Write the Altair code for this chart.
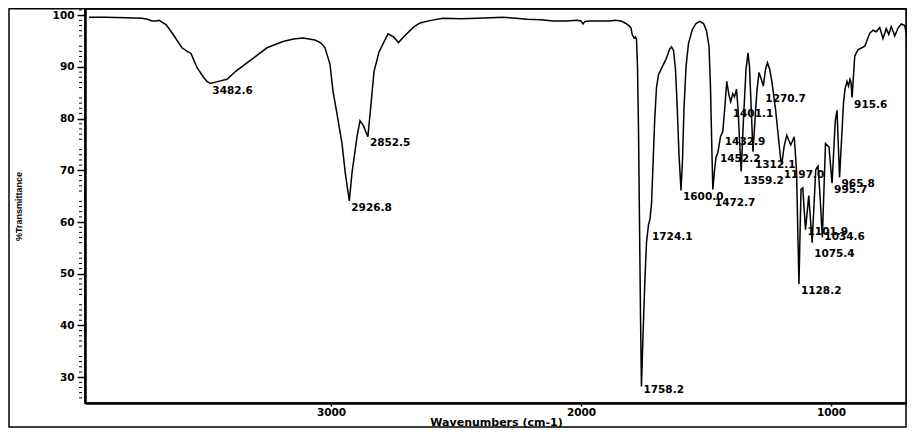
import altair as alt
import pandas as pd

# ---- spectrum (wavenumber cm-1, %T) ----
wavenumber = [3968, 3900, 3820, 3756, 3735, 3716, 3700, 3688, 3660, 3636, 3596, 3575, 3560, 3536,
              3510, 3496, 3482.6, 3450, 3416, 3380, 3360, 3308, 3256, 3192, 3150, 3112, 3064, 3040,
              3024, 3004, 2992, 2976, 2956, 2943, 2926.8, 2916, 2896, 2884, 2870, 2852.5, 2840, 2828,
              2808, 2772, 2750, 2730, 2710, 2670, 2644, 2600, 2552, 2480, 2416, 2360, 2312, 2260,
              2216, 2160, 2112, 2060, 2016, 2000, 1992, 1984, 1964, 1920, 1884, 1864, 1840, 1824,
              1808, 1800, 1795, 1788, 1782, 1778, 1774, 1770, 1766, 1762, 1758.2, 1752, 1745, 1738,
              1730, 1724.1, 1718, 1712, 1705, 1698, 1690, 1675, 1660, 1645, 1638, 1630, 1622, 1615,
              1608, 1600, 1594, 1588, 1580, 1570, 1555, 1540, 1525, 1510, 1498, 1488, 1482, 1477,
              1472.7, 1466, 1460, 1452.2, 1442, 1432.9, 1425, 1417, 1408, 1401.1, 1393, 1386, 1378,
              1372, 1365, 1359.2, 1350, 1340, 1332, 1326, 1320, 1312.1, 1305, 1296, 1288, 1280,
              1270.7, 1262, 1254, 1245, 1236, 1222, 1210, 1201, 1197, 1188, 1177, 1161, 1147, 1138,
              1128.2, 1120, 1113, 1101.9, 1089, 1075.4, 1061, 1052, 1045, 1034.6, 1022, 1008, 995.7,
              983, 976, 965.8, 950, 944, 936, 930, 924, 920, 915.6, 905, 892, 865, 845, 832, 819,
              805, 792, 779, 769, 759, 745, 732, 719, 705, 692, 680, 668]
transmittance = [99.6, 99.6, 99.5, 99.4, 99.2, 98.9, 98.9, 99.0, 98.2, 96.6, 93.7, 93.0, 92.6, 89.9,
                 88.0, 87.2, 86.8, 87.2, 87.6, 89.2, 89.9, 91.8, 93.7, 94.9, 95.4, 95.6, 95.2, 94.6,
                 93.7, 90.5, 85.3, 80.9, 75.2, 69.5, 64.1, 69.5, 76.5, 79.6, 78.6, 76.5, 82.8, 89.1,
                 92.9, 96.4, 95.8, 94.7, 95.8, 97.7, 98.5, 99.0, 99.4, 99.3, 99.4, 99.5, 99.6, 99.4,
                 99.2, 99.1, 98.9, 98.9, 99.0, 98.9, 98.3, 98.8, 98.9, 98.9, 98.9, 99.0, 98.9, 98.5,
                 98.0, 97.5, 96.2, 95.6, 95.8, 95.3, 90.0, 78.0, 60.0, 42.0, 28.2, 38.0, 48.0, 56.0,
                 59.5, 60.5, 63.5, 71.0, 80.0, 86.0, 88.5, 90.0, 91.5, 93.5, 93.9, 93.2, 89.5, 82.0,
                 73.0, 66.1, 72.0, 82.0, 90.0, 94.5, 97.2, 98.4, 98.8, 98.4, 97.0, 94.0, 86.0, 75.0,
                 66.3, 70.0, 72.5, 73.5, 76.5, 77.5, 82.0, 87.2, 84.5, 83.3, 84.8, 84.2, 85.7,
                 82.0, 75.0, 69.8, 80.0, 89.5, 92.7, 90.0, 83.0, 73.6, 79.0, 85.5, 88.9, 87.8,
                 86.3, 89.5, 90.8, 89.5, 87.0, 81.9, 76.2, 72.0, 71.1, 74.5, 76.8, 74.9, 76.5, 70.0,
                 48.0, 66.3, 66.6, 58.5, 65.1, 56.0, 70.1, 70.8, 66.0, 57.0, 75.2, 74.5, 67.5,
                 79.5, 81.6, 68.6, 83.0, 85.7, 87.2, 86.3, 87.6, 87.0, 84.1, 92.1, 93.3, 94.0, 96.5, 97.1, 96.8,
                 97.6, 95.5, 97.4, 96.3, 97.8, 96.0, 97.5, 98.3, 98.0, 94.6, 93.6, 93.0]

# ---- peak annotations: text, peak wavenumber, %T at the label's top ----
peak_labels = ["3482.6", "2926.8", "2852.5", "1758.2", "1724.1", "1600.0", "1472.7", "1452.2",
               "1432.9", "1401.1", "1359.2", "1312.1", "1270.7", "1197.0", "1128.2", "1101.9",
               "1075.4", "1034.6", "995.7", "965.8", "915.6"]
peak_wn = [3482.6, 2926.8, 2852.5, 1758.2, 1724.1, 1600.0, 1472.7, 1452.2, 1432.9, 1401.1, 1359.2,
           1312.1, 1270.7, 1197.0, 1128.2, 1101.9, 1075.4, 1034.6, 995.7, 965.8, 915.6]
peak_label_T = [86.2, 63.4, 76.0, 28.3, 57.8, 65.7, 64.4, 73.0, 76.2, 81.6, 68.7, 71.8, 84.6, 69.8,
                47.4, 58.9, 54.5, 57.8, 66.9, 68.2, 83.5]

y_major = list(range(30, 101, 5))
y_minor = [v for v in range(26, 102) if v % 5 != 0]
x_ticks = [3000, 2000, 1000]

X_DOMAIN = [3984, 696]
Y_DOMAIN = [25, 101.2]
W, H = 822, 394

spec_df = pd.DataFrame({"wn": wavenumber, "T": transmittance})
lab_df = pd.DataFrame({"wn": peak_wn, "T": peak_label_T, "label": peak_labels})
minor_df = pd.DataFrame({"T": y_minor})
frame_df = pd.DataFrame({"k": [0]})

xs = alt.Scale(domain=X_DOMAIN, nice=False, zero=False)
ys = alt.Scale(domain=Y_DOMAIN, nice=False, zero=False)

x_axis = alt.Axis(values=x_ticks, format="d", title="Wavenumbers (cm-1)",
                  labelFont="DejaVu Sans", labelFontWeight="bold", labelFontSize=10.5,
                  tickSize=3, tickWidth=1.5, domainWidth=2.5, labelPadding=1,
                  titleFont="DejaVu Sans", titleFontWeight="bold", titleFontSize=11,
                  titleY=19, titleBaseline="middle")
y_axis = alt.Axis(values=y_major, title="%Transmittance",
                  labelFont="DejaVu Sans", labelFontWeight="bold", labelFontSize=10.5,
                  tickSize=8, tickWidth=1.5, domainWidth=2.5, labelPadding=3,
                  titleFont="Liberation Sans", titleFontWeight="bold", titleFontSize=9,
                  titleX=-67, titleY=197, titleAngle=270, titleBaseline="middle", titleAlign="center")

line = alt.Chart(spec_df).mark_line(color="black", strokeWidth=1.5).encode(
    x=alt.X("wn:Q", scale=xs, axis=x_axis),
    y=alt.Y("T:Q", scale=ys, axis=y_axis),
)

labels = alt.Chart(lab_df).mark_text(align="left", baseline="top", dx=2, dy=-1,
                                     font="DejaVu Sans", fontWeight="bold", fontSize=10.5,
                                     color="black").encode(
    x=alt.X("wn:Q", scale=xs), y=alt.Y("T:Q", scale=ys), text="label:N")

minor = alt.Chart(minor_df).mark_rule(color="black", strokeWidth=1).encode(
    y=alt.Y("T:Q", scale=ys), x=alt.value(-6), x2=alt.value(-3))

frame = alt.Chart(frame_df).mark_rect(fill="transparent", stroke="black", strokeWidth=1.5).encode(
    x=alt.value(-76), x2=alt.value(821), y=alt.value(-0.2), y2=alt.value(418))

chart = alt.layer(frame, line, minor, labels).properties(
    width=W, height=H,
    autosize=alt.AutoSizeParams(type="none"),
    padding={"left": 77, "top": 1, "right": 0, "bottom": 25},
).configure_view(stroke="black", strokeWidth=1.5).configure_axis(
    grid=False, domainColor="black", tickColor="black", labelColor="black", titleColor="black")

chart.save("out.html", embed_options={"renderer": "svg", "actions": False})
